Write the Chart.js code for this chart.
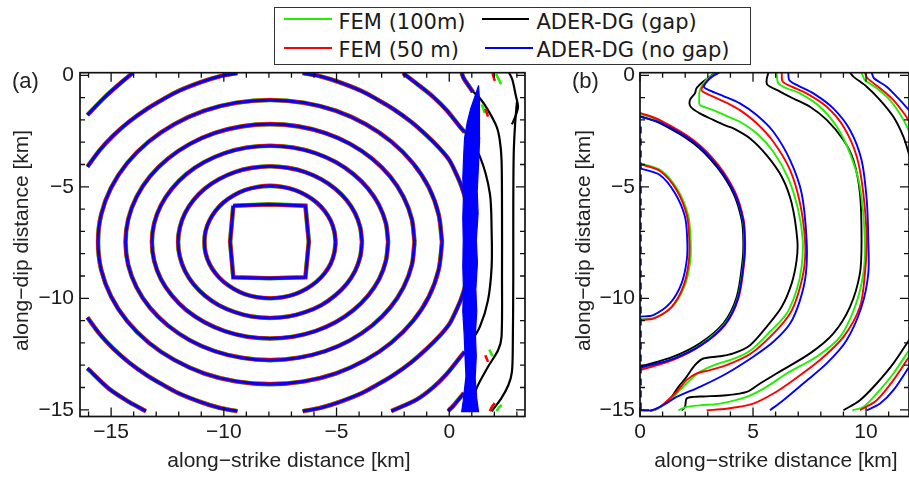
<!DOCTYPE html>
<html>
<head>
<meta charset="utf-8">
<title>Rupture front contours</title>
<script src="https://cdn.jsdelivr.net/npm/chart.js@4"></script>
<style>
  body { margin: 0; width: 909px; height: 477px; overflow: hidden; background: #fff; position: relative;
         font-family: 'Liberation Sans', Arial, sans-serif; color: #222; }
  canvas { position: absolute; top: 0; }
  #chart-a { left: 0; }
  #chart-b { left: 560px; }
  .txt { position: absolute; font-size: 21px; line-height: 21px; white-space: nowrap; }
  .ytitle { width: 300px; text-align: center; transform: rotate(-90deg); }
  .xtitle { width: 300px; text-align: center; }
  .panel { font-size: 22px; line-height: 22px; }
  #legend { position: absolute; left: 274px; top: 7px; width: 477px; height: 58px; box-sizing: border-box;
            border: 1.5px solid #333; background: #fff; }
  .key { position: absolute; height: 2px; }
  .ltxt { position: absolute; font-family: 'DejaVu Sans', sans-serif; font-size: 21px; line-height: 21px;
          white-space: nowrap; color: #1a1a1a; }
</style>
</head>
<body>
<canvas id="chart-a" width="545" height="477"></canvas>
<canvas id="chart-b" width="349" height="477"></canvas>

<div class="txt panel" style="left:12px;top:70px">(a)</div>
<div class="txt panel" style="left:572px;top:70px">(b)</div>
<div class="txt xtitle" style="left:139px;top:449px">along−strike distance [km]</div>
<div class="txt xtitle" style="left:626px;top:449px">along−strike distance [km]</div>
<div class="txt ytitle" style="left:-130px;top:230px">along−dip distance [km]</div>
<div class="txt ytitle" style="left:432px;top:230px">along−dip distance [km]</div>
<div id="legend"></div>

<script>
// ---- axis ticks (km) ----
const aXTicks = [-15, -10, -5, 0];
const bXTicks = [0, 5, 10];
const yTicks = [0, -5, -10, -15];

// ---- panel (a): rupture front contours, [along-strike, along-dip] in km ----
const aSquare = [[-9.58,-5.85],[-7.98,-5.79],[-6.38,-5.85],[-6.23,-7.46],[-6.38,-9.06],[-7.98,-9.10],[-9.58,-9.06],[-9.72,-7.46],[-9.58,-5.85]];
const aRing1 = [[-5.04,-7.48],[-5.10,-6.99],[-5.26,-6.52],[-5.53,-6.08],[-5.89,-5.70],[-6.33,-5.39],[-6.84,-5.15],[-7.38,-5.01],[-7.95,-4.96],[-8.52,-5.01],[-9.07,-5.15],[-9.57,-5.39],[-10.01,-5.70],[-10.37,-6.08],[-10.64,-6.52],[-10.81,-6.99],[-10.86,-7.48],[-10.81,-7.97],[-10.64,-8.45],[-10.37,-8.88],[-10.01,-9.26],[-9.57,-9.57],[-9.07,-9.81],[-8.52,-9.95],[-7.95,-10.0],[-7.38,-9.95],[-6.84,-9.81],[-6.33,-9.57],[-5.89,-9.26],[-5.53,-8.88],[-5.26,-8.45],[-5.10,-7.97],[-5.04,-7.48]];
const aRing2 = [[-3.87,-7.48],[-3.95,-6.82],[-4.18,-6.18],[-4.56,-5.59],[-5.07,-5.08],[-5.68,-4.66],[-6.39,-4.34],[-7.15,-4.15],[-7.95,-4.08],[-8.75,-4.15],[-9.51,-4.34],[-10.22,-4.66],[-10.84,-5.08],[-11.34,-5.59],[-11.72,-6.18],[-11.95,-6.82],[-12.03,-7.48],[-11.95,-8.14],[-11.72,-8.78],[-11.34,-9.37],[-10.84,-9.88],[-10.22,-10.31],[-9.51,-10.62],[-8.75,-10.82],[-7.95,-10.88],[-7.15,-10.82],[-6.39,-10.62],[-5.68,-10.31],[-5.07,-9.88],[-4.56,-9.37],[-4.18,-8.78],[-3.95,-8.14],[-3.87,-7.48]];
const aRing3 = [[-2.71,-7.48],[-2.81,-6.64],[-3.11,-5.83],[-3.60,-5.08],[-4.25,-4.43],[-5.04,-3.89],[-5.94,-3.49],[-6.93,-3.24],[-7.95,-3.16],[-8.97,-3.24],[-9.96,-3.49],[-10.86,-3.89],[-11.66,-4.43],[-12.30,-5.08],[-12.79,-5.83],[-13.09,-6.64],[-13.19,-7.48],[-13.09,-8.32],[-12.79,-9.14],[-12.30,-9.88],[-11.66,-10.53],[-10.86,-11.07],[-9.96,-11.47],[-8.97,-11.72],[-7.95,-11.80],[-6.93,-11.72],[-5.94,-11.47],[-5.04,-11.07],[-4.25,-10.53],[-3.60,-9.88],[-3.11,-9.14],[-2.81,-8.32],[-2.71,-7.48]];
const aRing4 = [[-1.54,-7.48],[-1.66,-6.45],[-2.03,-5.45],[-2.62,-4.54],[-3.42,-3.74],[-4.39,-3.08],[-5.50,-2.59],[-6.70,-2.29],[-7.95,-2.19],[-9.20,-2.29],[-10.41,-2.59],[-11.51,-3.08],[-12.48,-3.74],[-13.28,-4.54],[-13.87,-5.45],[-14.24,-6.45],[-14.36,-7.48],[-14.24,-8.51],[-13.87,-9.51],[-13.28,-10.42],[-12.48,-11.22],[-11.51,-11.88],[-10.41,-12.37],[-9.20,-12.67],[-7.95,-12.77],[-6.70,-12.67],[-5.50,-12.37],[-4.39,-11.88],[-3.42,-11.22],[-2.62,-10.42],[-2.03,-9.51],[-1.66,-8.51],[-1.54,-7.48]];
const aRing5 = [[-0.32,-7.48],[-0.47,-6.24],[-0.90,-5.04],[-1.61,-3.94],[-2.56,-2.98],[-3.71,-2.19],[-5.03,-1.59],[-6.46,-1.23],[-7.95,-1.11],[-9.44,-1.23],[-10.87,-1.59],[-12.19,-2.19],[-13.34,-2.98],[-14.29,-3.94],[-15.00,-5.04],[-15.44,-6.24],[-15.58,-7.48],[-15.44,-8.72],[-15.00,-9.92],[-14.29,-11.02],[-13.34,-11.98],[-12.19,-12.77],[-10.87,-13.37],[-9.44,-13.73],[-7.95,-13.85],[-6.46,-13.73],[-5.03,-13.37],[-3.71,-12.77],[-2.56,-11.98],[-1.61,-11.02],[-0.90,-9.92],[-0.47,-8.72],[-0.32,-7.48]];
const aRing6TL = [[-9.4,0.1],[-10.2,-0.05],[-11.0,-0.3],[-12.0,-0.7],[-12.7,-1.08],[-13.4,-1.5],[-14.2,-2.08],[-14.9,-2.7],[-15.5,-3.35],[-16.05,-4.1]];
const aRing6BL = [[-16.05,-10.86],[-15.5,-11.61],[-14.9,-12.26],[-14.2,-12.88],[-13.4,-13.46],[-12.7,-13.88],[-12.0,-14.26],[-11.0,-14.66],[-10.2,-14.91],[-9.4,-15.06]];
const aRing6R = [[-6.5,0.1],[-5.7,-0.05],[-4.9,-0.3],[-3.9,-0.7],[-3.2,-1.08],[-2.5,-1.5],[-1.7,-2.08],[-1.0,-2.7],[-0.45,-3.25],[0.0,-3.8],[0.3,-4.4],[0.55,-5.0],[0.74,-5.65],[0.85,-6.3],[0.92,-7.48],[0.85,-8.66],[0.74,-9.31],[0.55,-9.96],[0.3,-10.56],[0.0,-11.16],[-0.45,-11.71],[-1.0,-12.26],[-1.7,-12.88],[-2.5,-13.46],[-3.2,-13.88],[-3.9,-14.26],[-4.9,-14.66],[-5.7,-14.91],[-6.5,-15.06]];
const aRing7TL = [[-16.05,-1.78],[-15.3,-1.0],[-14.7,-0.45],[-14.05,0.1]];
const aRing7BL = [[-16.05,-13.14],[-15.1,-14.05],[-14.2,-14.65],[-13.46,-15.06]];
const aRing7TR = [[-2.05,0.1],[-1.46,-0.36],[-0.72,-0.96],[-0.12,-1.56],[0.47,-2.3],[0.68,-2.55]];
const aRing7BR = [[0.68,-12.4],[0.47,-12.66],[-0.12,-13.4],[-0.72,-14.0],[-1.46,-14.55],[-2.57,-15.06]];
const aRing8T = [[0.55,0.1],[0.65,-0.15],[0.85,-0.45],[1.05,-0.75]];
const aRing8B = [[-0.05,-15.06],[0.2,-14.8],[0.47,-14.47],[0.65,-14.25]];
// ADER-DG (gap) fronts beyond the step-over
const aGap7 = [[0.69,-2.53],[1.36,-3.65],[1.8,-5.29],[1.88,-7.0],[1.88,-8.58],[1.72,-10.08],[1.36,-11.27],[0.84,-12.17]];
const aGap8 = [[0.59,0.1],[0.69,-0.29],[0.99,-0.66],[1.36,-1.03],[1.72,-1.56],[2.1,-2.3],[2.24,-2.9],[2.32,-3.8],[2.34,-6.0],[2.34,-9.0],[2.32,-11.72],[2.17,-12.32],[1.72,-13.07],[1.21,-14.04],[0.99,-14.86]];
const aGap9a = [[2.65,0.12],[2.8,-0.2],[2.95,-0.9],[3.05,-1.4],[2.95,-1.8],[2.78,-2.2]];
const aGap9b = [[3.0,-1.2],[2.92,-2.2],[2.86,-3.5],[2.84,-6.0],[2.84,-9.0],[2.82,-12.0],[2.78,-13.3],[2.62,-13.9],[2.3,-14.5],[1.88,-15.07]];
// FEM pieces on the receiver side
const aRedBits = [[[1.92,0.1],[1.96,-0.05],[2.02,-0.25]], [[1.6,-1.5],[1.72,-1.85]], [[1.6,-12.55],[1.72,-12.85]], [[1.8,-15.06],[1.9,-14.85],[2.02,-14.7]]];
const aGreenBits = [[[2.08,0.05],[2.18,-0.15],[2.3,-0.4]], [[1.45,-1.3],[1.58,-1.7]], [[1.78,-12.3],[1.92,-12.6]], [[2.1,-15.06],[2.2,-14.9],[2.33,-14.78]]];
// ADER-DG (no gap) fronts piled up at the step-over
const aBand = [[1.3,-0.45],[1.12,-1.0],[0.95,-1.5],[0.8,-2.1],[0.68,-2.8],[0.64,-3.6],[0.6,-4.6],[0.63,-5.4],[0.6,-6.4],[0.62,-7.4],[0.6,-8.6],[0.63,-9.6],[0.6,-10.6],[0.66,-11.6],[0.7,-12.6],[0.74,-13.5],[0.62,-14.6],[0.55,-15.08],[1.3,-15.08],[1.22,-14.5],[1.15,-13.6],[1.2,-12.6],[1.16,-11.6],[1.22,-10.6],[1.18,-9.6],[1.25,-8.4],[1.2,-7.4],[1.28,-6.2],[1.24,-5.2],[1.3,-4.0],[1.35,-2.8],[1.32,-1.8],[1.36,-1.1],[1.3,-0.45]];

// ---- panel (b) ----
const bQ1Green = [[0,-3.95],[0.92,-4.26],[1.66,-5.12],[2.13,-6.28],[2.24,-7.4],[2.22,-8.36],[1.97,-9.46],[1.43,-10.38],[0.63,-10.88],[0,-10.95]];
const bQ1Red = [[0,-3.98],[0.9,-4.3],[1.62,-5.15],[2.08,-6.3],[2.18,-7.4],[2.16,-8.35],[1.92,-9.45],[1.4,-10.38],[0.62,-10.9],[0,-10.97]];
const bQ1Blue = [[0,-4.17],[0.88,-4.47],[1.55,-5.29],[1.99,-6.34],[2.09,-7.39],[2.07,-8.28],[1.84,-9.33],[1.33,-10.22],[0.59,-10.75],[0,-10.82]];
const bQ2Black = [[0,-1.83],[0.88,-2.15],[2.36,-3.05],[3.39,-4.1],[4.13,-5.29],[4.5,-6.49],[4.57,-7.39],[4.54,-8.28],[4.28,-9.93],[3.69,-11.12],[2.65,-12.02],[1.47,-12.62],[0,-13.07]];
const bQ2Green = [[0,-1.72],[0.9,-2.06],[2.4,-2.97],[3.44,-4.03],[4.17,-5.24],[4.55,-6.46],[4.62,-7.39],[4.59,-8.29],[4.33,-9.95],[3.73,-11.16],[2.68,-12.08],[1.49,-12.7],[0,-13.17]];
const bQ2Red = [[0,-1.68],[0.9,-2.02],[2.4,-2.93],[3.45,-4.0],[4.2,-5.22],[4.58,-6.45],[4.65,-7.39],[4.62,-8.3],[4.36,-9.98],[3.76,-11.2],[2.7,-12.12],[1.5,-12.75],[0,-13.22]];
const bQ2Blue = [[0,-1.86],[0.9,-2.12],[2.4,-3.0],[3.43,-4.07],[4.18,-5.28],[4.56,-6.49],[4.63,-7.39],[4.6,-8.3],[4.34,-9.97],[3.75,-11.18],[2.7,-12.1],[1.5,-12.7],[0,-13.12]];
const bQ3Black = [[3.32,0.12],[2.8,-0.28],[2.5,-0.58],[2.43,-0.81],[2.21,-1.11],[2.24,-1.41],[2.65,-1.71],[3.24,-2.0],[3.83,-2.27],[4.13,-2.38],[4.87,-2.83],[5.6,-3.58],[6.27,-4.55],[6.71,-5.74],[6.96,-7.39],[6.93,-8.28],[6.71,-9.33],[6.27,-10.38],[5.6,-11.28],[4.87,-12.1],[4.13,-12.47],[3.54,-12.6],[2.8,-12.7],[2.43,-13.0],[2.06,-13.52],[1.7,-13.97],[1.4,-14.42],[1.0,-14.8],[0.65,-15.02]];
const bQ3Green = [[3.39,0.12],[2.95,-0.18],[2.65,-0.66],[2.62,-1.11],[2.65,-1.33],[3.24,-1.56],[3.98,-1.89],[4.42,-2.08],[5.16,-2.6],[5.9,-3.43],[6.56,-4.62],[7.0,-6.04],[7.2,-7.39],[7.15,-8.58],[6.93,-9.63],[6.49,-10.68],[5.75,-11.5],[4.87,-12.35],[4.13,-12.72],[3.39,-12.95],[2.65,-13.3],[2.21,-13.67],[1.77,-14.12],[1.3,-14.6],[0.8,-14.95],[0.5,-15.05]];
const bQ3Red = [[3.44,0.12],[3.02,-0.21],[2.73,-0.58],[2.77,-0.73],[3.24,-0.96],[3.83,-1.23],[4.42,-1.56],[5.16,-2.15],[5.9,-2.98],[6.64,-4.25],[7.08,-5.74],[7.3,-7.39],[7.27,-8.58],[7.0,-9.78],[6.64,-10.68],[5.9,-11.58],[4.87,-12.5],[3.83,-13.0],[3.1,-13.22],[2.51,-13.37],[2.06,-13.67],[1.55,-14.27],[0.88,-14.87],[0.44,-15.05]];
const bQ3Blue = [[3.51,0.12],[3.17,-0.06],[2.83,-0.51],[3.1,-0.69],[3.69,-0.93],[4.42,-1.26],[5.16,-1.78],[5.9,-2.53],[6.64,-3.8],[7.15,-5.29],[7.37,-7.39],[7.34,-8.88],[7.08,-10.08],[6.64,-11.13],[5.9,-11.95],[5.01,-12.62],[3.83,-13.37],[2.65,-13.97],[1.62,-14.42],[1.18,-14.7],[0.52,-15.02],[0,-15.02]];
const bQ4Black = [[5.68,0.12],[5.6,-0.21],[5.64,-0.43],[6.19,-0.73],[6.78,-1.04],[7.52,-1.41],[8.26,-2.0],[9.0,-2.9],[9.44,-3.8],[9.73,-5.29],[9.8,-7.39],[9.73,-8.88],[9.29,-10.38],[8.55,-11.58],[7.52,-12.47],[6.04,-13.37],[5.31,-13.82],[4.72,-14.2],[3.83,-14.35],[2.8,-14.4],[2.36,-14.42],[2.06,-14.5],[1.99,-14.87],[1.84,-15.02]];
const bQ4Green = [[6.04,0.12],[6.12,-0.36],[6.49,-0.58],[7.08,-0.81],[7.96,-1.41],[8.7,-2.3],[9.29,-3.5],[9.73,-5.0],[9.95,-7.39],[9.88,-8.88],[9.51,-10.38],[8.85,-11.73],[7.81,-12.62],[6.49,-13.37],[5.6,-13.97],[4.72,-14.42],[3.54,-14.72],[2.65,-14.8],[2.06,-14.87],[1.7,-15.02]];
const bQ4Red = [[6.27,0.12],[6.31,-0.28],[6.71,-0.51],[7.37,-0.81],[8.26,-1.41],[9.0,-2.3],[9.59,-3.65],[9.88,-5.29],[10.03,-7.39],[9.95,-8.88],[9.73,-10.38],[9.0,-11.73],[7.96,-12.77],[6.78,-13.67],[5.9,-14.27],[5.01,-14.72],[3.83,-14.95],[2.95,-15.02]];
const bQ4Blue = [[6.56,0.12],[6.6,-0.21],[6.93,-0.43],[7.67,-0.81],[8.55,-1.48],[9.29,-2.45],[9.8,-3.8],[10.03,-5.59],[10.1,-7.39],[10.1,-8.88],[9.8,-10.38],[9.14,-11.88],[8.26,-12.92],[7.22,-13.82],[6.34,-14.57],[5.75,-15.02]];
const bQ5BlackTop = [[9.29,0.12],[9.44,-0.06],[10.03,-0.51],[10.62,-1.11],[11.21,-1.86],[11.65,-2.75],[11.95,-3.7]];
const bQ5GreenTop = [[9.8,0.12],[9.95,-0.21],[10.47,-0.58],[11.06,-1.11],[11.58,-1.86],[11.95,-2.6]];
const bQ5RedTop = [[9.95,0.12],[10.06,-0.13],[10.62,-0.58],[11.21,-1.11],[11.73,-1.78],[11.95,-2.15]];
const bQ5BlueTop = [[10.25,0.12],[10.35,-0.13],[10.91,-0.51],[11.5,-1.11],[11.95,-1.62]];
const bQ5BlackBot = [[11.95,-11.8],[11.21,-12.92],[10.47,-13.82],[9.73,-14.57],[9.0,-15.02]];
const bQ5GreenBot = [[11.95,-12.25],[11.21,-13.37],[10.47,-14.27],[9.88,-14.87],[9.4,-15.02]];
const bQ5RedBot = [[11.95,-12.55],[11.21,-13.67],[10.47,-14.57],[9.73,-15.02]];
const bQ5BlueBot = [[11.95,-13.0],[11.21,-14.12],[10.62,-14.72],[10.03,-15.02]];
const bEdgeBlue = [[0.03,-2.3],[0.03,-15.05]];

// ---- legend ----
const legendLabels = ['FEM (100m)', 'FEM (50 m)', 'ADER-DG (gap)', 'ADER-DG (no gap)'];
const GREEN = '#22ee00', RED = '#ff0000', BLACK = '#000000', BLUE = '#0000ff';
const legendColors = [GREEN, RED, BLACK, BLUE];

const legendPos = [ // [line left, line width, line top, text left, text top] relative to page
  [284, 48, 18, 339, 12],
  [284, 48, 47, 339, 40],
  [482, 47, 18, 537, 12],
  [485, 48, 47, 537, 40]
];
const legend = document.getElementById('legend');
legendLabels.forEach((lab, i) => {
  const p = legendPos[i];
  const k = document.createElement('div');
  k.className = 'key';
  k.style.cssText = `left:${p[0] - 275.5}px;width:${p[1]}px;top:${p[2] - 8.5}px;background:${legendColors[i]}`;
  legend.appendChild(k);
  const t = document.createElement('div');
  t.className = 'ltxt';
  t.style.cssText = `left:${p[3] - 275.5}px;top:${p[4] - 8.5}px`;
  t.textContent = lab;
  legend.appendChild(t);
});

// ---- chart helpers ----
function line(data, color, width, curve) {
  return {
    data: data, borderColor: color, backgroundColor: color, borderWidth: width,
    pointRadius: 0, pointHoverRadius: 0, fill: false,
    tension: curve === false ? 0 : 0.3
  };
}

const frameTicks = {
  id: 'frameTicks',
  afterDatasetsDraw(chart) {
    const { ctx, chartArea: ca, scales: { x, y } } = chart;
    ctx.save();
    ctx.strokeStyle = '#111';
    ctx.lineWidth = 1.7;
    ctx.strokeRect(ca.left, ca.top, ca.right - ca.left, ca.bottom - ca.top);
    ctx.lineWidth = 1.3;
    ctx.beginPath();
    for (let v = Math.ceil(x.min); v <= Math.floor(x.max); v++) {
      const px = x.getPixelForValue(v), len = v % 5 === 0 ? 9 : 5;
      ctx.moveTo(px, ca.bottom); ctx.lineTo(px, ca.bottom - len);
      ctx.moveTo(px, ca.top); ctx.lineTo(px, ca.top + len);
    }
    for (let v = Math.ceil(y.min); v <= Math.floor(y.max); v++) {
      const py = y.getPixelForValue(v), len = v % 5 === 0 ? 9 : 5;
      ctx.moveTo(ca.left, py); ctx.lineTo(ca.left + len, py);
      ctx.moveTo(ca.right, py); ctx.lineTo(ca.right - len, py);
    }
    ctx.stroke();
    ctx.restore();
  }
};

const tickFont = { family: "'Liberation Sans', Arial, sans-serif", size: 21 };
const fmt = v => (v < 0 ? '\u2212' + Math.abs(v) : String(v));

function options(xMin, xMax, xTickList, padRight, yPad) {
  return {
    animation: false,
    responsive: false,
    events: [],
    layout: { padding: { left: 0, right: padRight, top: 72.7, bottom: 0 } },
    elements: { line: { capBezierPoints: false } },
    plugins: { legend: { display: false }, tooltip: { enabled: false } },
    scales: {
      x: {
        type: 'linear', min: xMin, max: xMax,
        grid: { display: false, drawTicks: false }, border: { display: false },
        afterBuildTicks: s => { s.ticks = xTickList.map(v => ({ value: v })); },
        afterFit: s => { s.height = 60.5; },
        ticks: { padding: 3, color: '#1a1a1a', font: tickFont, callback: fmt, maxRotation: 0, autoSkip: false }
      },
      y: {
        type: 'linear', min: -15.3, max: 0.117,
        grid: { display: false, drawTicks: false }, border: { display: false },
        afterBuildTicks: s => { s.ticks = yTicks.map(v => ({ value: v })); },
        afterFit: s => { s.width = 80; },
        ticks: { padding: yPad, color: '#1a1a1a', font: tickFont, callback: fmt, autoSkip: false }
      }
    }
  };
}

// ---- panel (a) datasets, listed bottom to top ----
const aFronts = [aRing1, aRing2, aRing3, aRing4, aRing5, aRing6TL, aRing6BL, aRing6R,
                 aRing7TL, aRing7BL, aRing7TR, aRing7BR, aRing8T, aRing8B];
const aSets = [];
[aGap7, aGap8, aGap9a, aGap9b].forEach(d => aSets.push(line(d, BLACK, 2.2)));
aGreenBits.forEach(d => aSets.push(line(d, GREEN, 2.6, false)));
aRedBits.forEach(d => aSets.push(line(d, RED, 2.6, false)));
[[GREEN, 4.6], [RED, 4.1], [BLUE, 2.8]].forEach(([c, w]) => {
  aSets.push(line(aSquare, c, w, false));
  aFronts.forEach(d => aSets.push(line(d, c, w)));
});
const band = line(aBand, BLUE, 1.2, false);
band.fill = 'shape';
aSets.push(band);

// ---- panel (b) datasets, listed bottom to top ----
const bSets = [];
[bQ2Black, bQ3Black, bQ4Black, bQ5BlackTop, bQ5BlackBot].forEach(d => bSets.push(line(d, BLACK, 1.9)));
[bQ1Green, bQ2Green, bQ3Green, bQ4Green, bQ5GreenTop, bQ5GreenBot].forEach(d => bSets.push(line(d, GREEN, 1.9)));
[bQ1Red, bQ2Red, bQ3Red, bQ4Red, bQ5RedTop, bQ5RedBot].forEach(d => bSets.push(line(d, RED, 1.9)));
[bQ1Blue, bQ2Blue, bQ3Blue, bQ4Blue, bQ5BlueTop, bQ5BlueBot].forEach(d => bSets.push(line(d, BLUE, 1.9)));
const edge = line(bEdgeBlue, BLUE, 2.2, false);
edge.borderDash = [7, 5];
bSets.push(edge);

// Chart.js paints dataset 0 last, so reverse to keep the list order bottom-to-top
new Chart(document.getElementById('chart-a'), {
  type: 'line',
  data: { datasets: aSets.reverse() },
  options: options(-16.38, 3.36, aXTicks, 20, 6),
  plugins: [frameTicks]
});

new Chart(document.getElementById('chart-b'), {
  type: 'line',
  data: { datasets: bSets.reverse() },
  options: options(0, 11.9, bXTicks, 0, 5),
  plugins: [frameTicks]
});
</script>
</body>
</html>
